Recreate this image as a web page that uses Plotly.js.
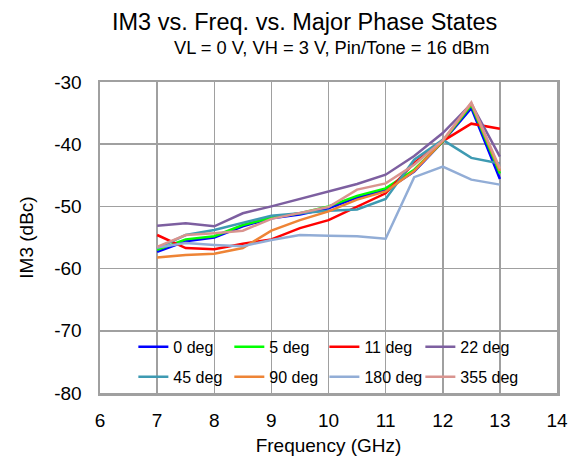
<!DOCTYPE html>
<html>
<head>
<meta charset="utf-8">
<script src="https://cdn.plot.ly/plotly-3.0.1.min.js"></script>
<style>html,body{margin:0;padding:0;background:#fff;}#chart{width:581px;height:462px;}</style>
</head>
<body>
<div id="chart"></div>
<script>
const freq = [7, 7.5, 8, 8.5, 9, 9.5, 10, 10.5, 11, 11.5, 12, 12.5, 13];
const seriesNames = ["0 deg", "5 deg", "11 deg", "22 deg", "45 deg", "90 deg", "180 deg", "355 deg"];
const deg0   = [-57.3, -55.6, -55.0, -53.2, -51.9, -51.3, -50.3, -48.6, -47.4, -44.4, -39.6, -34.2, -45.6];
const deg5   = [-57.0, -55.3, -54.8, -53.0, -51.8, -51.1, -50.0, -48.3, -47.1, -44.1, -39.6, -33.7, -44.7];
const deg11  = [-54.6, -56.7, -56.9, -56.0, -55.3, -53.5, -52.2, -50.0, -47.9, -43.0, -39.5, -36.7, -37.5];
const deg22  = [-53.1, -52.7, -53.2, -51.1, -50.0, -48.8, -47.7, -46.4, -44.9, -41.9, -38.2, -33.5, -42.0];
const deg45  = [-56.7, -54.6, -53.8, -52.6, -51.5, -51.1, -50.7, -50.5, -48.8, -42.5, -39.3, -42.2, -43.1];
const deg90  = [-58.2, -57.8, -57.6, -56.7, -53.9, -52.2, -50.8, -48.9, -47.6, -44.3, -39.5, -33.4, -44.3];
const deg180 = [-56.6, -55.9, -56.2, -56.4, -55.4, -54.6, -54.7, -54.8, -55.2, -45.3, -43.6, -45.7, -46.5];
const deg355 = [-56.5, -54.6, -54.3, -53.9, -52.0, -51.0, -50.1, -47.3, -46.3, -43.3, -39.4, -33.3, -43.9];
const xTickVals = [6, 7, 8, 9, 10, 11, 12, 13, 14];
const yTickVals = [-80, -70, -60, -50, -40, -30];

const allSeries = [deg0, deg5, deg11, deg22, deg45, deg90, deg180, deg355];
const colors = ["#0000FF", "#00FF00", "#FF0000", "#7D5FA0", "#3E9AB2", "#EE8436", "#92ADD6", "#D9948F"];

const legendIds = allSeries.map((_, i) => i === 0 ? "legend" : "legend" + (i + 1));
const traces = allSeries.map((ys, i) => ({
  x: freq, y: ys, name: seriesNames[i], type: "scatter", mode: "lines",
  line: {color: colors[i], width: 2.5},
  legend: legendIds[i]
}));

const font = "Liberation Sans, Arial, sans-serif";
const gridCol = "#A0A0A0";
const colX = [0.073, 0.283, 0.491, 0.701];
const rowY = [0.148, 0.052];

const layout = {
  width: 581, height: 462,
  margin: {l: 100, r: 24, t: 82, b: 69},
  paper_bgcolor: "#fff", plot_bgcolor: "#fff",
  font: {family: font, color: "#000"},
  showlegend: true,
  xaxis: {
    range: [6, 14], tickvals: xTickVals, ticktext: xTickVals.map(String),
    showgrid: true, gridcolor: gridCol, gridwidth: 1.5,
    showline: true, linecolor: gridCol, linewidth: 2.5, mirror: true,
    ticks: "inside", ticklen: 4, tickcolor: gridCol, tickwidth: 1.5,
    tickfont: {size: 19, family: font}, zeroline: false,
    ticklabelstandoff: 9,
    title: {text: "Frequency (GHz)", font: {size: 19, family: font}, standoff: 9}
  },
  yaxis: {
    range: [-80, -30], tickvals: yTickVals, ticktext: yTickVals.map(String),
    showgrid: true, gridcolor: gridCol, gridwidth: 1.5,
    showline: true, linecolor: gridCol, linewidth: 2.5, mirror: true,
    ticks: "", tickfont: {size: 19, family: font}, zeroline: false,
    ticklabelstandoff: 12,
    title: {text: "IM3 (dBc)", font: {size: 19, family: font}, standoff: 16}
  },
  shapes: [
    {type: "rect", xref: "paper", yref: "paper", x0: 0.0875, x1: 0.941, y0: 0.004, y1: 0.197,
     fillcolor: "#fff", line: {width: 0}, layer: "between"}
  ],
  annotations: [
    {text: "IM3 vs. Freq. vs. Major Phase States", xref: "paper", yref: "paper",
     x: 0.447, y: 1, yshift: 60, xanchor: "center", yanchor: "middle", showarrow: false,
     font: {size: 23.5, family: font}},
    {text: "VL = 0 V, VH = 3 V, Pin/Tone = 16 dBm", xref: "paper", yref: "paper",
     x: 0.508, y: 1, yshift: 35, xanchor: "center", yanchor: "middle", showarrow: false,
     font: {size: 18.3, family: font}}
  ]
};

legendIds.forEach((id, i) => {
  layout[id] = {
    orientation: "h", xanchor: "left", yanchor: "middle",
    x: colX[i % 4], y: rowY[Math.floor(i / 4)],
    bgcolor: "rgba(0,0,0,0)", borderwidth: 0,
    font: {size: 16, family: font}, itemwidth: 30
  };
});

Plotly.newPlot("chart", traces, layout, {displayModeBar: false, staticPlot: true});
</script>
</body>
</html>
